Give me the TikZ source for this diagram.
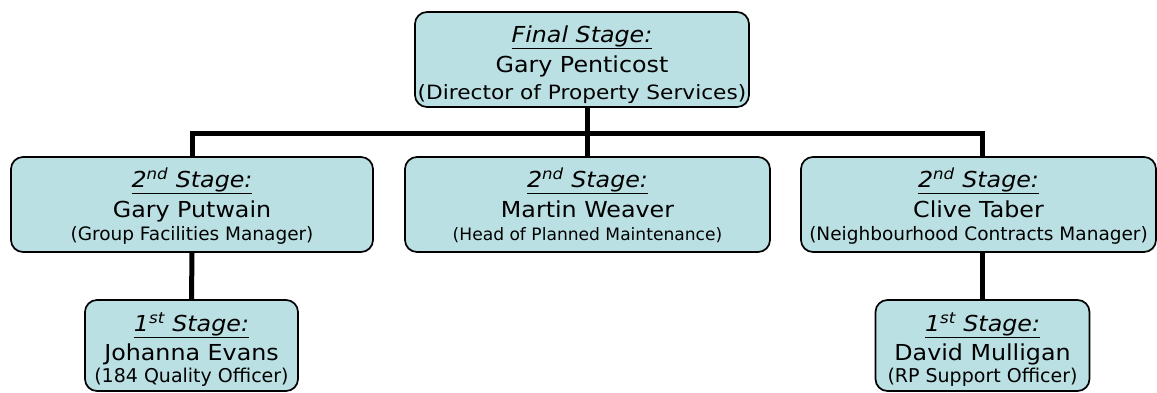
\documentclass[tikz,border=0pt]{standalone}
\usepackage{fontspec}
\setmainfont{DejaVu Sans}[FakeStretch=1.08]
\newfontfamily\plainsub{DejaVu Sans}
\newfontfamily\widesub{DejaVu Sans}[FakeStretch=1.1]
\usetikzlibrary{calc}
\definecolor{boxfill}{RGB}{187,224,227}
\tikzset{
  box/.style={draw=black, line width=1.7pt, fill=boxfill, rounded corners=12pt, inner sep=0pt},
  conn/.style={line width=5pt, line cap=butt, line join=miter},
  stg/.style={anchor=base, inner sep=0pt, font=\fontsize{22}{26}\selectfont\itshape},
  nm/.style={anchor=base, inner sep=0pt, font=\fontsize{22}{26}\selectfont},
  rl/.style={anchor=base, inner sep=0pt, font=\plainsub\fontsize{18.5}{22}\selectfont},
  rlmid/.style={anchor=base, inner sep=0pt, font=\plainsub\fontsize{17.1}{21}\selectfont},
  rlbot/.style={anchor=base, inner sep=0pt, font=\plainsub\fontsize{19}{22}\selectfont},
  rltop/.style={anchor=base, inner sep=0pt, font=\widesub\fontsize{19.7}{23}\selectfont},
}
\begin{document}
\begin{tikzpicture}[x=1pt,y=-1pt]
\useasboundingbox (0,0) rectangle (1157,392);
% boxes
\node[box, minimum width=334pt, minimum height=95pt] (top) at (582,59.5) {};
\node[box, minimum width=362pt, minimum height=95pt] (left) at (192,204.5) {};
\node[box, minimum width=365pt, minimum height=95pt] (mid) at (587.5,204.5) {};
\node[box, minimum width=355pt, minimum height=95pt] (right) at (978.5,204.5) {};
\node[box, minimum width=213pt, minimum height=91pt] (jo) at (191.5,345.5) {};
\node[box, minimum width=214pt, minimum height=91pt] (dm) at (982.5,345.5) {};
\coordinate (bar) at (0,133);
% connectors
\draw[conn] (left.north) -- (left.north |- bar) -- (dm.north |- bar) -- (right.north -| dm.north);
\draw[conn] (top.south -| mid.north) -- (mid.north);
\draw[conn] (left.south) -- (jo.north);
\draw[conn] (dm.north |- right.south) -- (dm.north);
% texts
\node[stg] (top-s) at ($(top.north)+(0,31)$) {\underline{Final Stage:}};
\node[nm] (top-n) at ($(top.north)+(0,61)$) {Gary Penticost};
\node[rltop] (top-r) at ($(top.north)+(0,88)$) {(Director of Property Services)};

\node[stg] (left-s) at ($(left.north)+(0,31)$) {\underline{2\textsuperscript{nd} Stage:}};
\node[nm] (left-n) at ($(left.north)+(0,61)$) {Gary Putwain};
\node[rl] (left-r) at ($(left.north)+(0,84)$) {(Group Facilities Manager)};

\node[stg] (mid-s) at ($(mid.north)+(0,31)$) {\underline{2\textsuperscript{nd} Stage:}};
\node[nm] (mid-n) at ($(mid.north)+(0,61)$) {Martin Weaver};
\node[rlmid] (mid-r) at ($(mid.north)+(0,84)$) {(Head of Planned Maintenance)};

\node[stg] (right-s) at ($(right.north)+(0,31)$) {\underline{2\textsuperscript{nd} Stage:}};
\node[nm] (right-n) at ($(right.north)+(0,61)$) {Clive Taber};
\node[rl] (right-r) at ($(right.north)+(0,84)$) {(Neighbourhood Contracts Manager)};

\node[stg] (jo-s) at ($(jo.north)+(0,32)$) {\underline{1\textsuperscript{st} Stage:}};
\node[nm] (jo-n) at ($(jo.north)+(0,61)$) {Johanna Evans};
\node[rlbot] (jo-r) at ($(jo.north)+(0,83)$) {(184 Quality Officer)};

\node[stg] (dm-s) at ($(dm.north)+(0,32)$) {\underline{1\textsuperscript{st} Stage:}};
\node[nm] (dm-n) at ($(dm.north)+(0,61)$) {David Mulligan};
\node[rlbot] (dm-r) at ($(dm.north)+(0,83)$) {(RP Support Officer)};
\end{tikzpicture}
\end{document}
